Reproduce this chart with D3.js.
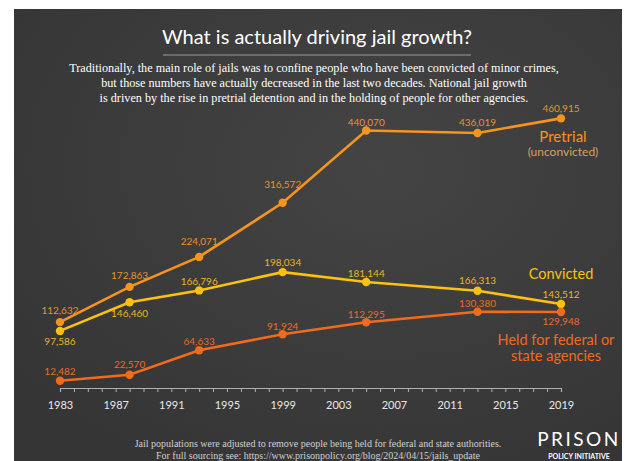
<!DOCTYPE html>
<html>
<head>
<meta charset="utf-8">
<script src="https://cdn.jsdelivr.net/npm/d3@7"></script>
<style>
  html, body { margin: 0; padding: 0; background: #ffffff; }
  svg { display: block; }
</style>
</head>
<body>
<svg id="chart" width="626" height="461"></svg>
<script>
// Survey years and jail populations by status
const years = [1983, 1988, 1993, 1999, 2005, 2013, 2019];
const pretrial = [112632, 172863, 224071, 316572, 440070, 436019, 460915];
const convicted = [97586, 146460, 166796, 198034, 181144, 166313, 143512];
const heldForAgencies = [12482, 22570, 64633, 91924, 112295, 130380, 129948];
const tickYears = [1983, 1987, 1991, 1995, 1999, 2003, 2007, 2011, 2015, 2019];

const titleText = "What is actually driving jail growth?";
const subtitleLines = [
  "Traditionally, the main role of jails was to confine people who have been convicted of minor crimes,",
  "but those numbers have actually decreased in the last two decades. National jail growth",
  "is driven by the rise in pretrial detention and in the holding of people for other agencies."
];
const footerLines = [
  "Jail populations were adjusted to remove people being held for federal and state authorities.",
  "For full sourcing see: https://www.prisonpolicy.org/blog/2024/04/15/jails_update"
];

// Label placement: vertical offset of each value label from its point (negative = above)
const pretrialLabelDy = [-8, -8, -12, -15, -5, -7, -6];
const convictedLabelDy = [14, 15, -5, -6, -5, -7, -6];
const heldLabelDy = [-6, -7, -5, -4, -4, -5, 13];

const sansFont = "Lato, 'Open Sans', sans-serif";
const serifFont = "'Liberation Serif', 'DejaVu Serif', serif";

const svg = d3.select("#chart");

// Background panel
const defs = svg.append("defs");
const grad = defs.append("radialGradient").attr("id", "bg")
  .attr("cx", "60%").attr("cy", "35%").attr("r", "75%");
grad.append("stop").attr("offset", "0%").attr("stop-color", "#444444");
grad.append("stop").attr("offset", "100%").attr("stop-color", "#353535");
svg.append("rect").attr("x", 14).attr("y", 9).attr("width", 608).attr("height", 452)
  .attr("fill", "url(#bg)");

// Title and rule
svg.append("text").attr("x", 317).attr("y", 44).attr("text-anchor", "middle")
  .attr("fill", "#ffffff").attr("font-family", sansFont).attr("font-size", 20)
  .text(titleText);
svg.append("line").attr("x1", 163).attr("x2", 471).attr("y1", 55).attr("y2", 55)
  .attr("stroke", "#9a9a9a").attr("stroke-width", 1);

svg.append("g").selectAll("text").data(subtitleLines).join("text")
  .attr("x", 314).attr("y", (d, i) => 72 + i * 15)
  .attr("text-anchor", "middle").attr("fill", "#ffffff")
  .attr("font-family", serifFont).attr("font-size", 12.2)
  .text(d => d);

// Scales
const x = d3.scaleLinear().domain([1983, 2019]).range([60, 561]);
const y = d3.scaleLinear().domain([0, 500000]).range([388, 95.5]);

// Axis
const axis = d3.axisBottom(x)
  .tickValues(d3.range(1983, 2020))
  .tickSize(4)
  .tickFormat(d => tickYears.includes(d) ? String(d) : "");
const ax = svg.append("g").attr("transform", "translate(0,388)").call(axis);
ax.select(".domain").attr("stroke", "#b0b0b0").attr("stroke-width", 1.2);
ax.selectAll(".tick line").attr("stroke", "#b0b0b0");
ax.selectAll(".tick text").attr("fill", "#e8e8e8")
  .attr("font-family", sansFont).attr("font-size", 11).attr("dy", "1.25em");

const series = [
  { values: pretrial, color: "#f7941d", labelColor: "#e8922a", dy: pretrialLabelDy },
  { values: convicted, color: "#fdc10f", labelColor: "#e9b523", dy: convictedLabelDy },
  { values: heldForAgencies, color: "#f26a1b", labelColor: "#ec6b25", dy: heldLabelDy }
];

const line = d3.line().x(d => x(d.year)).y(d => y(d.value));
const fmt = d3.format(",");

series.forEach(s => {
  const pts = years.map((yr, i) => ({ year: yr, value: s.values[i], dy: s.dy[i] }));
  const g = svg.append("g");
  g.append("path").datum(pts).attr("d", line)
    .attr("fill", "none").attr("stroke", s.color).attr("stroke-width", 2.6);
  g.selectAll("circle").data(pts).join("circle")
    .attr("cx", d => x(d.year)).attr("cy", d => y(d.value)).attr("r", 4.2)
    .attr("fill", s.color);
  g.selectAll("text").data(pts).join("text")
    .attr("x", d => x(d.year)).attr("y", d => y(d.value) + d.dy)
    .attr("text-anchor", "middle").attr("fill", s.labelColor)
    .attr("font-family", sansFont).attr("font-size", 10)
    .text(d => fmt(d.value));
});

// Series names
const names = [
  { text: "Pretrial", x: 563, y: 142, size: 15, color: "#f7941d" },
  { text: "(unconvicted)", x: 563, y: 156, size: 12, color: "#d9a062" },
  { text: "Convicted", x: 561, y: 279, size: 14.5, color: "#fdc10f" },
  { text: "Held for federal or", x: 556, y: 345, size: 14.5, color: "#f26a1b" },
  { text: "state agencies", x: 556, y: 361, size: 14.5, color: "#f26a1b" }
];
svg.append("g").selectAll("text").data(names).join("text")
  .attr("x", d => d.x).attr("y", d => d.y).attr("text-anchor", "middle")
  .attr("fill", d => d.color).attr("font-family", sansFont)
  .attr("font-size", d => d.size).text(d => d.text);

// Footer notes
svg.append("g").selectAll("text").data(footerLines).join("text")
  .attr("x", 318).attr("y", (d, i) => 447 + i * 12)
  .attr("text-anchor", "middle").attr("fill", "#d0d0d0")
  .attr("font-family", serifFont).attr("font-size", 10)
  .text(d => d);

// Organization mark
svg.append("text").attr("x", 579).attr("y", 446).attr("text-anchor", "middle")
  .attr("fill", "#ffffff").attr("font-family", sansFont).attr("font-size", 19)
  .attr("letter-spacing", 2.5).text("PRISON");
svg.append("text").attr("x", 579).attr("y", 459).attr("text-anchor", "middle")
  .attr("fill", "#ffffff").attr("font-family", sansFont).attr("font-weight", 700)
  .attr("font-size", 7).text("POLICY INITIATIVE");
</script>
</body>
</html>
